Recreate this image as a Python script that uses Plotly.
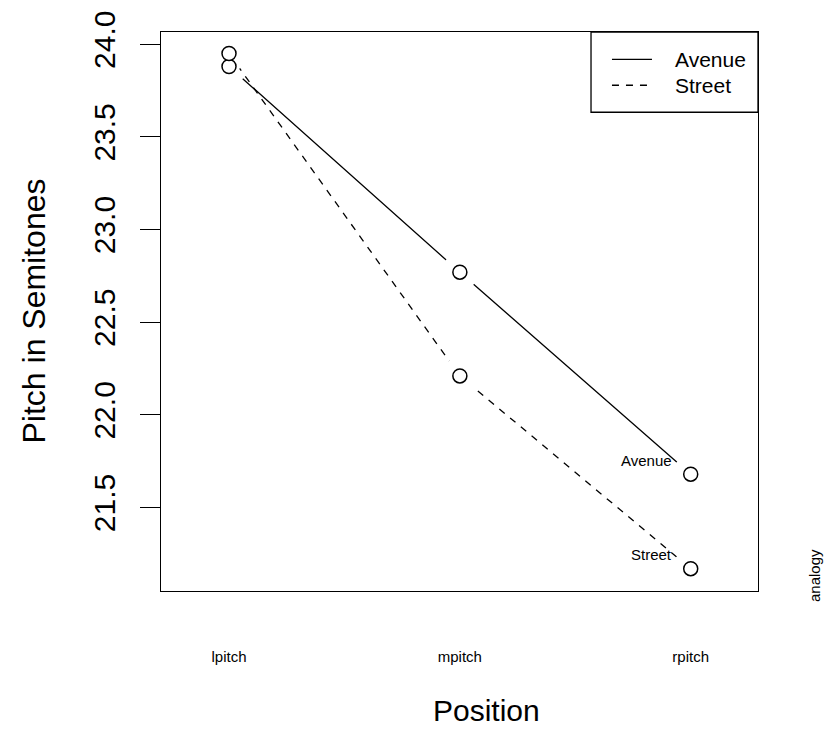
import plotly.graph_objects as go

# Mean pitch (semitones) at each position, by word type
positions = ["lpitch", "mpitch", "rpitch"]
avenue = [23.88, 22.77, 21.68]
street = [23.95, 22.21, 21.17]

series = [
    ("Avenue", avenue, "solid"),
    ("Street", street, "7px,7px"),
]

FONT = "Liberation Sans, Arial, Helvetica, sans-serif"
x_idx = list(range(1, len(positions) + 1))

fig = go.Figure()

# lines, each followed by a white halo around its own points so the
# line stops short of the circle markers
for name, vals, dash in series:
    fig.add_trace(go.Scatter(
        x=x_idx, y=vals, mode="lines", name=name, showlegend=False,
        line=dict(color="black", width=1.3, dash=dash),
        hoverinfo="skip",
    ))
    fig.add_trace(go.Scatter(
        x=x_idx, y=vals, mode="markers", showlegend=False,
        marker=dict(size=37, color="white", line=dict(width=0)),
        hoverinfo="skip",
    ))

# open circle markers on top
for name, vals, dash in series:
    fig.add_trace(go.Scatter(
        x=x_idx, y=vals, mode="markers", showlegend=False,
        marker=dict(size=14, color="white", symbol="circle",
                    line=dict(color="black", width=1.5)),
        name=name,
    ))

# series names next to the last point of each line
for name, vals, dash in series:
    fig.add_annotation(
        x=x_idx[-1], y=vals[-1], xref="x", yref="y",
        text=name, showarrow=False, xanchor="right", yanchor="middle",
        xshift=-17, yshift=14,
        font=dict(family=FONT, size=15, color="black"),
    )

# legend box in the top-right corner of the plot area
fig.add_shape(type="rect", xref="paper", yref="paper",
              x0=0.7203, x1=1.0, y0=0.8564, y1=1.0,
              line=dict(color="black", width=1.3), fillcolor="white", layer="above")
for i, (name, vals, dash) in enumerate(series):
    ky = 0.9512 - i * 0.0465
    fig.add_shape(type="line", xref="paper", yref="paper",
                  x0=0.7554, x1=0.8224, y0=ky, y1=ky,
                  line=dict(color="black", width=1.3, dash=dash), layer="above")
    fig.add_annotation(
        x=0.8576, y=ky, xref="paper", yref="paper", text=name,
        showarrow=False, xanchor="left", yanchor="middle",
        font=dict(family=FONT, size=21, color="black"),
    )

# axis titles and trace label
fig.add_annotation(
    x=0.5, y=0, xref="paper", yref="paper", text="Position",
    showarrow=False, xanchor="center", yanchor="middle", yshift=-119, xshift=27,
    font=dict(family=FONT, size=30, color="black"),
)
fig.add_annotation(
    x=0, y=0.5, xref="paper", yref="paper", text="Pitch in Semitones",
    showarrow=False, xanchor="center", yanchor="middle", xshift=-128, textangle=-90,
    font=dict(family=FONT, size=32, color="black"),
)
fig.add_annotation(
    x=1, y=0, xref="paper", yref="paper", text="analogy",
    showarrow=False, xanchor="center", yanchor="middle", xshift=56, yshift=15,
    textangle=-90,
    font=dict(family=FONT, size=15, color="black"),
)

fig.update_layout(
    width=832, height=740,
    margin=dict(l=161, r=74, t=32, b=149),
    paper_bgcolor="white", plot_bgcolor="white",
    font=dict(family=FONT, color="black"),
    showlegend=False,
    xaxis=dict(
        range=[0.7054, 3.2915], tickvals=x_idx, ticktext=positions,
        showgrid=False, zeroline=False, ticks="",
        showline=True, linecolor="black", linewidth=1.3, mirror=True,
        tickfont=dict(family=FONT, size=15, color="black"),
        ticklabelstandoff=52,
    ),
    yaxis=dict(
        range=[21.0495, 24.066], tickvals=[21.5, 22.0, 22.5, 23.0, 23.5, 24.0],
        tickformat=".1f", tickangle=-90,
        showgrid=False, zeroline=False,
        ticks="outside", ticklen=20, tickwidth=1.3, tickcolor="black",
        showline=True, linecolor="black", linewidth=1.3, mirror=True,
        tickfont=dict(family=FONT, size=30, color="black"),
        ticklabelstandoff=13,
    ),
)

fig.write_html("out.html")
